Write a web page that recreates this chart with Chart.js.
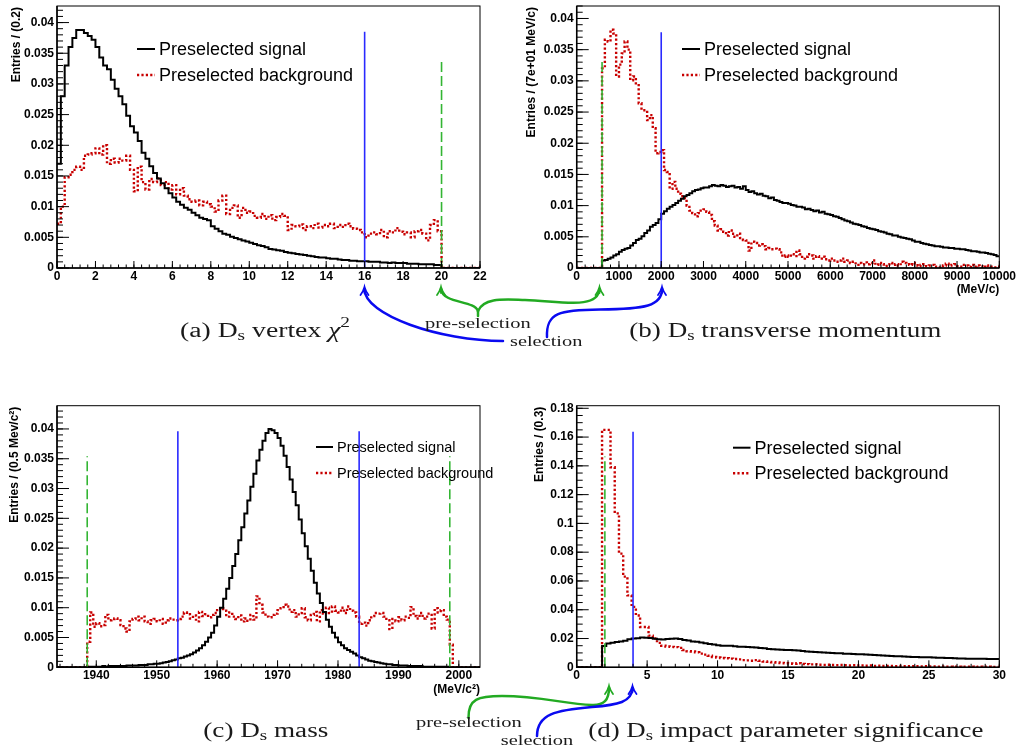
<!DOCTYPE html>
<html>
<head>
<meta charset="utf-8">
<title>Ds selection variables</title>
<script src="https://cdn.jsdelivr.net/npm/chart.js@4.4.1/dist/chart.umd.min.js"></script>
<style>
  body { margin: 0; background: #fff; }
  #page { position: relative; width: 1020px; height: 755px; overflow: hidden; }
  canvas { position: absolute; }
</style>
</head>
<body>
<div id="page">
  <canvas id="chartA" width="510" height="300" style="left:0;top:0"></canvas>
  <canvas id="chartB" width="510" height="300" style="left:510px;top:0"></canvas>
  <canvas id="chartC" width="510" height="305" style="left:0;top:395px"></canvas>
  <canvas id="chartD" width="510" height="305" style="left:510px;top:395px"></canvas>
  <canvas id="notes" width="1020" height="755" style="left:0;top:0"></canvas>
</div>
<script>
// ---- (a) Ds vertex chi2, bins of 0.2 from 0 ----
const binStartA = 0, binWidthA = 0.2;
const signalA = [
  0.0170, 0.0280, 0.0330, 0.0360, 0.0375, 0.0388, 0.0388, 0.0383, 0.0378, 0.0372,
  0.0360, 0.0343, 0.0330, 0.0324, 0.0307, 0.0292, 0.0280, 0.0267, 0.0248, 0.0231,
  0.0221, 0.0207, 0.0188, 0.0178, 0.0166, 0.0155, 0.0146, 0.0138, 0.0130, 0.0122,
  0.0115, 0.0108, 0.0103, 0.0098, 0.0095, 0.0090, 0.0086, 0.0082, 0.0080, 0.0078,
  0.0068, 0.0064, 0.0060, 0.0056, 0.0054, 0.0051, 0.0049, 0.0047, 0.0045, 0.0043,
  0.0041, 0.0039, 0.0037, 0.0036, 0.0034, 0.0031, 0.0030, 0.0029, 0.0028, 0.0026,
  0.0025, 0.0024, 0.0023, 0.0022, 0.0021, 0.0020, 0.0019, 0.0018, 0.0017, 0.0017,
  0.0016, 0.0015, 0.0015, 0.0014, 0.0013, 0.0013, 0.0012, 0.0012, 0.0011, 0.0011,
  0.0011, 0.0010, 0.0010, 0.0010, 0.0009, 0.0009, 0.0008, 0.0009, 0.0008, 0.0008,
  0.0008, 0.0007, 0.0007, 0.0007, 0.0006, 0.0006, 0.0006, 0.0006, 0.0005, 0.0005,
  0, 0, 0, 0, 0, 0, 0, 0, 0, 0
];
const backgroundA = [
  0.0072, 0.0100, 0.0148, 0.0152, 0.0160, 0.0165, 0.0160, 0.0183, 0.0185, 0.0187,
  0.0195, 0.0185, 0.0200, 0.0170, 0.0178, 0.0172, 0.0178, 0.0175, 0.0183, 0.0160,
  0.0125, 0.0165, 0.0140, 0.0128, 0.0145, 0.0140, 0.0146, 0.0135, 0.0140, 0.0128,
  0.0135, 0.0120, 0.0130, 0.0118, 0.0112, 0.0108, 0.0110, 0.0102, 0.0108, 0.0104,
  0.0100, 0.0092, 0.0110, 0.0118, 0.0088, 0.0098, 0.0102, 0.0082, 0.0098, 0.0090,
  0.0092, 0.0085, 0.0082, 0.0088, 0.0080, 0.0086, 0.0078, 0.0083, 0.0088, 0.0085,
  0.0062, 0.0070, 0.0068, 0.0071, 0.0062, 0.0068, 0.0065, 0.0072, 0.0066, 0.0070,
  0.0068, 0.0072, 0.0065, 0.0070, 0.0067, 0.0072, 0.0068, 0.0064, 0.0062, 0.0058,
  0.0050, 0.0056, 0.0058, 0.0055, 0.0062, 0.0050, 0.0060, 0.0058, 0.0065, 0.0059,
  0.0055, 0.0058, 0.0050, 0.0060, 0.0062, 0.0056, 0.0045, 0.0070, 0.0078, 0.0060,
  0, 0, 0, 0, 0, 0, 0, 0, 0, 0
];
const selCutsA = [16], preCutsA = [20];
const selTopA = 0.0385, preTopA = 0.0341;
const xTicksA = [0, 2, 4, 6, 8, 10, 12, 14, 16, 18, 20, 22];
const yTicksA = [0, 0.005, 0.01, 0.015, 0.02, 0.025, 0.03, 0.035, 0.04];

// ---- (b) Ds transverse momentum, 150 bins up to 10000 MeV/c ----
const binStartB = 0, binWidthB = 10000 / 150;
const signalB = [
  0, 0, 0, 0, 0, 0, 0, 0, 0, 0.0012,
  0.0013, 0.0015, 0.0017, 0.0020, 0.0022, 0.0026, 0.0029, 0.0031, 0.0032, 0.0036,
  0.0040, 0.0045, 0.0047, 0.0051, 0.0056, 0.0060, 0.0066, 0.0069, 0.0072, 0.0078,
  0.0087, 0.0091, 0.0095, 0.0098, 0.0101, 0.0104, 0.0108, 0.0111, 0.0115, 0.0117,
  0.0120, 0.0123, 0.0125, 0.0126, 0.0128, 0.0129, 0.0129, 0.0131, 0.0133, 0.0132,
  0.0131, 0.0133, 0.0132, 0.0130, 0.0131, 0.0132, 0.0129, 0.0130, 0.0127, 0.0131,
  0.0125, 0.0122, 0.0123, 0.0120, 0.0118, 0.0119, 0.0116, 0.0115, 0.0112, 0.0113,
  0.0109, 0.0108, 0.0106, 0.0104, 0.0104, 0.0103, 0.0101, 0.0100, 0.0098, 0.0098,
  0.0097, 0.0094, 0.0095, 0.0093, 0.0091, 0.0092, 0.0089, 0.0090, 0.0087, 0.0086,
  0.0085, 0.0083, 0.0082, 0.0080, 0.0078, 0.0076, 0.0075, 0.0073, 0.0071, 0.0070,
  0.0069, 0.0067, 0.0066, 0.0064, 0.0063, 0.0062, 0.0061, 0.0059, 0.0058, 0.0057,
  0.0055, 0.0054, 0.0052, 0.0052, 0.0050, 0.0049, 0.0048, 0.0047, 0.0046, 0.0044,
  0.0042, 0.0042, 0.0040, 0.0039, 0.0038, 0.0037, 0.0036, 0.0035, 0.0035, 0.0034,
  0.0033, 0.0033, 0.0032, 0.0032, 0.0031, 0.0031, 0.0030, 0.0030, 0.0029, 0.0028,
  0.0027, 0.0027, 0.0026, 0.0025, 0.0025, 0.0024, 0.0023, 0.0022, 0.0021, 0.0019
];
const backgroundB = [
  0, 0, 0, 0, 0, 0, 0, 0, 0, 0.0320,
  0.0366, 0.0363, 0.0382, 0.0376, 0.0307, 0.0326, 0.0344, 0.0363, 0.0350, 0.0301,
  0.0307, 0.0296, 0.0264, 0.0253, 0.0253, 0.0237, 0.0245, 0.0224, 0.0184, 0.0186,
  0.0189, 0.0157, 0.0154, 0.0127, 0.0138, 0.0127, 0.0119, 0.0115, 0.0112, 0.0100,
  0.0092, 0.0088, 0.0083, 0.0088, 0.0092, 0.0094, 0.0090, 0.0085, 0.0075, 0.0068,
  0.0060, 0.0062, 0.0058, 0.0052, 0.0060, 0.0055, 0.0050, 0.0055, 0.0048, 0.0045,
  0.0044, 0.0028, 0.0042, 0.0040, 0.0036, 0.0038, 0.0035, 0.0030, 0.0032, 0.0030,
  0.0031, 0.0030, 0.0025, 0.0018, 0.0020, 0.0018, 0.0022, 0.0019, 0.0028, 0.0022,
  0.0015, 0.0018, 0.0022, 0.0020, 0.0015, 0.0019, 0.0015, 0.0018, 0.0014, 0.0012,
  0.0015, 0.0012, 0.0010, 0.0012, 0.0015, 0.0010, 0.0012, 0.0008, 0.0010, 0.0005,
  0.0008, 0.0006, 0.0009, 0.0006, 0.0008, 0.0012, 0.0005, 0.0008, 0.0006, 0.0003,
  0.0006, 0.0008, 0.0005, 0.0006, 0.0004, 0.0010, 0.0008, 0.0006, 0.0005, 0.0008,
  0.0007, 0.0003, 0.0005, 0.0006, 0.0003, 0.0004, 0.0005, 0.0002, 0.0001, 0.0003,
  0.0004, 0.0007, 0.0004, 0.0005, 0.0006, 0.0003, 0.0002, 0.0005, 0.0004, 0.0002,
  0.0005, 0.0002, 0.0004, 0.0003, 0.0001, 0.0004, 0.0003, 0.0002, 0.0001, 0.0002
];
const selCutsB = [2000], preCutsB = [600];
const selTopB = 0.0378, preTopB = 0.0336;
const xTicksB = [0, 1000, 2000, 3000, 4000, 5000, 6000, 7000, 8000, 9000, 10000];
const yTicksB = [0, 0.005, 0.01, 0.015, 0.02, 0.025, 0.03, 0.035, 0.04];

// ---- (c) Ds mass, bins of 0.5 MeV/c2 from 1933.5 ----
const binStartC = 1933.5, binWidthC = 0.5;
const signalC = [
  0, 0, 0, 0, 0, 0, 0, 0, 0, 0,
  0.0001, 0.0001, 0.0001, 0.0001, 0.0001, 0.0002, 0.0001, 0.0002, 0.0002, 0.0002,
  0.0002, 0.0002, 0.0002, 0.0003, 0.0003, 0.0003, 0.0003, 0.0004, 0.0004, 0.0004,
  0.0005, 0.0005, 0.0006, 0.0006, 0.0007, 0.0008, 0.0009, 0.0010, 0.0012, 0.0013,
  0.0015, 0.0016, 0.0018, 0.0020, 0.0022, 0.0025, 0.0028, 0.0032, 0.0037, 0.0043,
  0.0050, 0.0058, 0.0070, 0.0085, 0.0100, 0.0115, 0.0132, 0.0150, 0.0170, 0.0190,
  0.0213, 0.0235, 0.0258, 0.0280, 0.0303, 0.0325, 0.0347, 0.0365, 0.0380, 0.0393,
  0.0400, 0.0398, 0.0393, 0.0385, 0.0372, 0.0355, 0.0336, 0.0315, 0.0294, 0.0272,
  0.0248, 0.0225, 0.0203, 0.0182, 0.0162, 0.0142, 0.0124, 0.0108, 0.0093, 0.0080,
  0.0068, 0.0058, 0.0050, 0.0042, 0.0037, 0.0032, 0.0029, 0.0026, 0.0023, 0.0020,
  0.0017, 0.0015, 0.0013, 0.0011, 0.0010, 0.0009, 0.0008, 0.0007, 0.0006, 0.0005,
  0.0005, 0.0004, 0.0004, 0.0003, 0.0003, 0.0003, 0.0002, 0.0002, 0.0002, 0.0002,
  0.0002, 0.0001, 0.0001, 0.0001, 0.0001, 0.0001, 0.0001, 0.0001, 0.0001, 0.0001,
  0, 0, 0, 0, 0, 0, 0, 0, 0, 0
];
const backgroundC = [
  0, 0, 0, 0, 0, 0, 0, 0, 0, 0,
  0.0043, 0.0092, 0.0068, 0.0074, 0.0069, 0.0071, 0.0088, 0.0079, 0.0081, 0.0082,
  0.0079, 0.0071, 0.0065, 0.0060, 0.0077, 0.0081, 0.0085, 0.0079, 0.0085, 0.0077,
  0.0073, 0.0079, 0.0081, 0.0077, 0.0081, 0.0073, 0.0079, 0.0082, 0.0080, 0.0079,
  0.0081, 0.0085, 0.0092, 0.0089, 0.0082, 0.0087, 0.0077, 0.0093, 0.0086, 0.0089,
  0.0084, 0.0088, 0.0091, 0.0096, 0.0099, 0.0095, 0.0085, 0.0092, 0.0085, 0.0081,
  0.0087, 0.0077, 0.0082, 0.0078, 0.0088, 0.0080, 0.0119, 0.0105, 0.0092, 0.0085,
  0.0084, 0.0088, 0.0090, 0.0096, 0.0099, 0.0105, 0.0102, 0.0093, 0.0096, 0.0085,
  0.0091, 0.0099, 0.0084, 0.0079, 0.0088, 0.0093, 0.0077, 0.0096, 0.0090, 0.0100,
  0.0091, 0.0102, 0.0095, 0.0092, 0.0100, 0.0091, 0.0102, 0.0095, 0.0092, 0.0085,
  0.0073, 0.0075, 0.0070, 0.0079, 0.0086, 0.0091, 0.0090, 0.0091, 0.0085, 0.0079,
  0.0064, 0.0081, 0.0077, 0.0084, 0.0079, 0.0085, 0.0083, 0.0101, 0.0086, 0.0082,
  0.0091, 0.0082, 0.0085, 0.0090, 0.0065, 0.0099, 0.0092, 0.0096, 0.0085, 0.0080,
  0.0038, 0, 0, 0, 0, 0, 0, 0, 0, 0
];
const selCutsC = [1953.5, 1983.5], preCutsC = [1938.5, 1998.5];
const selTopC = 0.0396, preTopC = 0.0354;
const xTicksC = [1940, 1950, 1960, 1970, 1980, 1990, 2000];
const yTicksC = [0, 0.005, 0.01, 0.015, 0.02, 0.025, 0.03, 0.035, 0.04];

// ---- (d) Ds impact parameter significance, bins of 0.3 from 0 ----
const binStartD = 0, binWidthD = 0.3;
const signalD = [
  0, 0, 0, 0, 0, 0, 0.0148, 0.0165, 0.0170, 0.0175,
  0.0180, 0.0185, 0.0195, 0.0200, 0.0202, 0.0207, 0.0205, 0.0203, 0.0198, 0.0195,
  0.0194, 0.0196, 0.0199, 0.0200, 0.0197, 0.0190, 0.0186, 0.0180, 0.0177, 0.0173,
  0.0168, 0.0162, 0.0158, 0.0153, 0.0150, 0.0150, 0.0149, 0.0146, 0.0143, 0.0142,
  0.0141, 0.0140, 0.0138, 0.0134, 0.0132, 0.0128, 0.0125, 0.0124, 0.0122, 0.0121,
  0.0120, 0.0118, 0.0116, 0.0113, 0.0110, 0.0108, 0.0106, 0.0104, 0.0103, 0.0101,
  0.0100, 0.0098, 0.0097, 0.0095, 0.0094, 0.0092, 0.0091, 0.0090, 0.0089, 0.0087,
  0.0085, 0.0083, 0.0082, 0.0080, 0.0078, 0.0077, 0.0076, 0.0075, 0.0073, 0.0072,
  0.0071, 0.0070, 0.0069, 0.0069, 0.0068, 0.0067, 0.0066, 0.0065, 0.0064, 0.0063,
  0.0062, 0.0061, 0.0060, 0.0060, 0.0060, 0.0059, 0.0059, 0.0058, 0.0058, 0.0057
];
const backgroundD = [
  0, 0, 0, 0, 0, 0, 0.165, 0.165, 0.139, 0.107,
  0.079, 0.063, 0.050, 0.042, 0.036, 0.028, 0.028, 0.022, 0.020, 0.017,
  0.0150, 0.0145, 0.0142, 0.0140, 0.0135, 0.0120, 0.0112, 0.0110, 0.0105, 0.0095,
  0.0088, 0.0080, 0.0072, 0.0068, 0.0065, 0.0063, 0.0060, 0.0058, 0.0055, 0.0050,
  0.0048, 0.0046, 0.0050, 0.0045, 0.0040, 0.0038, 0.0035, 0.0033, 0.0030, 0.0028,
  0.0027, 0.0025, 0.0028, 0.0023, 0.0022, 0.0020, 0.0021, 0.0018, 0.0017, 0.0018,
  0.0016, 0.0015, 0.0016, 0.0014, 0.0013, 0.0014, 0.0012, 0.0013, 0.0011, 0.0012,
  0.0010, 0.0011, 0.0009, 0.0010, 0.0009, 0.0008, 0.0009, 0.0008, 0.0007, 0.0008,
  0.0007, 0.0006, 0.0007, 0.0006, 0.0006, 0.0005, 0.0006, 0.0005, 0.0005, 0.0004,
  0.0005, 0.0004, 0.0004, 0.0005, 0.0003, 0.0004, 0.0003, 0.0004, 0.0003, 0.0003
];
const selCutsD = [4], preCutsD = [2];
const selTopD = 0.1637, preTopD = 0.1465;
const xTicksD = [0, 5, 10, 15, 20, 25, 30];
const yTicksD = [0, 0.02, 0.04, 0.06, 0.08, 0.1, 0.12, 0.14, 0.16, 0.18];

const SANS = '"Liberation Sans", Arial, Helvetica, sans-serif';
const SERIF = '"Liberation Serif", "Times New Roman", serif';
const TICK_FONT = 'bold 12px ' + SANS;

// histogram as step points: one point per bin edge, last one closes the bin
function hist(start, width, values) {
  const pts = values.map((v, i) => ({ x: start + i * width, y: v }));
  pts.push({ x: start + values.length * width, y: values[values.length - 1] });
  return pts;
}

function cutDatasets(xs, top, color, dash) {
  return xs.map(xv => ({
    data: [{ x: xv, y: 0 }, { x: xv, y: top }],
    borderColor: color, borderWidth: 1.6, borderDash: dash, order: 0, isCut: true
  }));
}

function eachStep(min, max, step, fn) {
  const first = Math.ceil(min / step - 1e-9);
  const last = Math.floor(max / step + 1e-9);
  for (let k = first; k <= last; k++) fn(k * step);
}

function drawRootAxes(chart, cfg) {
  const { ctx, chartArea: a, scales: { x, y } } = chart;
  ctx.save();
  ctx.strokeStyle = '#000';
  ctx.fillStyle = '#000';
  ctx.lineWidth = 1;
  ctx.strokeRect(a.left, a.top, a.right - a.left, a.bottom - a.top);

  // inward ticks, ROOT style
  ctx.beginPath();
  eachStep(y.min, y.max, cfg.yMinor, v => {
    const p = y.getPixelForValue(v);
    ctx.moveTo(a.left, p); ctx.lineTo(a.left + 6, p);
  });
  cfg.yTicks.forEach(v => {
    const p = y.getPixelForValue(v);
    ctx.moveTo(a.left, p); ctx.lineTo(a.left + 12, p);
  });
  eachStep(x.min, x.max, cfg.xMinor, v => {
    const p = x.getPixelForValue(v);
    ctx.moveTo(p, a.bottom); ctx.lineTo(p, a.bottom - 3.5);
  });
  cfg.xTicks.forEach(v => {
    const p = x.getPixelForValue(v);
    ctx.moveTo(p, a.bottom); ctx.lineTo(p, a.bottom - 7);
  });
  ctx.stroke();

  ctx.lineWidth = 1.5;
  ctx.beginPath();
  ctx.moveTo(a.left, a.top); ctx.lineTo(a.left, a.bottom); ctx.lineTo(a.right, a.bottom);
  ctx.stroke();

  ctx.font = TICK_FONT;
  ctx.textBaseline = 'middle';
  ctx.textAlign = 'right';
  cfg.yTicks.forEach(v => ctx.fillText(String(v), a.left - 3, y.getPixelForValue(v)));
  ctx.textAlign = 'center';
  cfg.xTicks.forEach(v => ctx.fillText(String(v), x.getPixelForValue(v), a.bottom + 8.5));
  if (cfg.xUnit) {
    ctx.textAlign = 'right';
    ctx.fillText(cfg.xUnit, a.right, a.bottom + 22);
  }

  ctx.save();
  ctx.translate(a.left - cfg.titleGap, a.top + 1);
  ctx.rotate(-Math.PI / 2);
  ctx.textAlign = 'right';
  ctx.fillText(cfg.yTitle, 0, 0);
  ctx.restore();

  // legend
  const lg = cfg.legend;
  chart.data.datasets.filter(d => !d.isCut).forEach((d, i) => {
    const yy = lg.y + i * lg.gap;
    ctx.strokeStyle = d.borderColor;
    ctx.lineWidth = d.borderWidth;
    ctx.setLineDash(d.borderDash || []);
    ctx.beginPath(); ctx.moveTo(lg.x, yy); ctx.lineTo(lg.x + lg.len, yy); ctx.stroke();
    ctx.setLineDash([]);
    ctx.font = lg.size + 'px ' + SANS;
    ctx.textAlign = 'left';
    ctx.fillStyle = '#000';
    ctx.fillText(d.label, lg.x + lg.len + 4, yy + 1);
  });
  ctx.restore();
}

function makePanel(id, p) {
  const datasets = [
    { label: 'Preselected signal', data: hist(p.start, p.width, p.signal),
      borderColor: '#000', borderWidth: 2, order: 1 },
    { label: 'Preselected background', data: hist(p.start, p.width, p.background),
      borderColor: '#c80000', borderWidth: 2.4, borderDash: [2.2, 2.2], order: 2 },
    ...cutDatasets(p.selCuts, p.selTop, '#2a2aff', []),
    ...cutDatasets(p.preCuts, p.preTop, '#33b533', [10, 4])
  ];
  return new Chart(document.getElementById(id), {
    type: 'line',
    data: { datasets },
    options: {
      responsive: false,
      animation: false,
      devicePixelRatio: 1,
      events: [],
      layout: { padding: p.padding },
      datasets: { line: { stepped: true, pointRadius: 0, fill: false, tension: 0 } },
      plugins: { legend: { display: false }, tooltip: { enabled: false } },
      scales: {
        x: { type: 'linear', min: p.xMin, max: p.xMax, display: false },
        y: { type: 'linear', min: 0, max: p.yMax, display: false }
      }
    },
    plugins: [{ id: 'rootAxes', afterDraw: chart => drawRootAxes(chart, p.axes) }]
  });
}

makePanel('chartA', {
  start: binStartA, width: binWidthA, signal: signalA, background: backgroundA,
  selCuts: selCutsA, selTop: selTopA, preCuts: preCutsA, preTop: preTopA,
  xMin: 0, xMax: 22, yMax: 0.0427,
  padding: { left: 57, top: 6, right: 30, bottom: 32 },
  axes: { xTicks: xTicksA, yTicks: yTicksA, xMinor: 0.4, yMinor: 0.001,
          yTitle: 'Entries / (0.2)', titleGap: 40,
          legend: { x: 137, y: 49, gap: 26, len: 18, size: 18 } }
});
makePanel('chartB', {
  start: binStartB, width: binWidthB, signal: signalB, background: backgroundB,
  selCuts: selCutsB, selTop: selTopB, preCuts: preCutsB, preTop: preTopB,
  xMin: 0, xMax: 10000, yMax: 0.042,
  padding: { left: 66.7, top: 6, right: 20.7, bottom: 32 },
  axes: { xTicks: xTicksB, yTicks: yTicksB, xMinor: 200, yMinor: 0.001,
          yTitle: 'Entries / (7e+01 MeV/c)', titleGap: 45, xUnit: '(MeV/c)',
          legend: { x: 172, y: 49, gap: 26, len: 18, size: 18 } }
});
makePanel('chartC', {
  start: binStartC, width: binWidthC, signal: signalC, background: backgroundC,
  selCuts: selCutsC, selTop: selTopC, preCuts: preCutsC, preTop: preTopC,
  xMin: 1933.5, xMax: 2003.5, yMax: 0.0439,
  padding: { left: 57, top: 10.7, right: 30, bottom: 32.7 },
  axes: { xTicks: xTicksC, yTicks: yTicksC, xMinor: 2, yMinor: 0.001,
          yTitle: 'Entries / (0.5 Mev/c\u00b2)', titleGap: 42, xUnit: '(MeV/c\u00b2)',
          legend: { x: 316, y: 52, gap: 26, len: 17, size: 14.5 } }
});
makePanel('chartD', {
  start: binStartD, width: binWidthD, signal: signalD, background: backgroundD,
  selCuts: selCutsD, selTop: selTopD, preCuts: preCutsD, preTop: preTopD,
  xMin: 0, xMax: 30, yMax: 0.1818,
  padding: { left: 66.7, top: 10.7, right: 20.7, bottom: 32.7 },
  axes: { xTicks: xTicksD, yTicks: yTicksD, xMinor: 1, yMinor: 0.005,
          yTitle: 'Entries / (0.3)', titleGap: 37.5,
          legend: { x: 223, y: 52.7, gap: 25.5, len: 17.5, size: 18 } }
});

// ---- captions and cut annotations ----
const nctx = document.getElementById('notes').getContext('2d');

function caption(parts, x, base, w) {
  nctx.save();
  let total = 0;
  parts.forEach(p => { nctx.font = (p.it ? 'italic ' : '') + p.s + 'px ' + SERIF; p.w = nctx.measureText(p.t).width; total += p.w; });
  nctx.translate(x, base);
  nctx.scale(w / total, 1);
  nctx.fillStyle = '#1a1a1a';
  nctx.textBaseline = 'alphabetic';
  let cx = 0;
  parts.forEach(p => {
    nctx.font = (p.it ? 'italic ' : '') + p.s + 'px ' + SERIF;
    nctx.fillText(p.t, cx, p.dy || 0);
    cx += p.w;
  });
  nctx.restore();
}

function curve(color, pts) {
  nctx.save();
  nctx.strokeStyle = color;
  nctx.lineWidth = 2.5;
  nctx.lineCap = 'round';
  nctx.beginPath();
  nctx.moveTo(pts[0][0], pts[0][1]);
  for (let i = 1; i < pts.length; i += 3) {
    nctx.bezierCurveTo(pts[i][0], pts[i][1], pts[i + 1][0], pts[i + 1][1], pts[i + 2][0], pts[i + 2][1]);
  }
  nctx.stroke();
  nctx.restore();
}

function head(color, x, y) {
  nctx.save();
  nctx.strokeStyle = color;
  nctx.lineWidth = 1.8;
  nctx.lineCap = 'round';
  nctx.beginPath();
  nctx.moveTo(x - 4, y + 8);
  nctx.quadraticCurveTo(x - 1, y + 4, x, y);
  nctx.quadraticCurveTo(x + 1, y + 4, x + 4, y + 8);
  nctx.moveTo(x, y); nctx.lineTo(x, y + 6);
  nctx.stroke();
  nctx.restore();
}

const GREEN = '#22aa22', BLUE = '#0a0af0';

// top row
curve(BLUE, [[503, 341], [440, 341], [364, 315], [364.5, 289]]);
head(BLUE, 364.5, 287);
curve(BLUE, [[547, 337], [546, 312], [560, 310], [600, 309.5], [645, 309], [662, 306], [662, 289]]);
head(BLUE, 662, 287);
curve(GREEN, [[478, 316], [478, 314], [478, 312], [478, 311]]);
curve(GREEN, [[478, 311], [474, 300], [443, 304], [441, 289]]);
head(GREEN, 441, 287);
curve(GREEN, [[478, 311], [484, 297], [505, 299.5], [525, 300], [560, 301], [598, 310], [599.5, 289]]);
head(GREEN, 599.5, 287);

// bottom row
curve(GREEN, [[468.5, 718], [468, 699], [478, 696], [502, 696], [540, 696], [565, 704], [592, 705], [604, 705.5], [609, 700], [609, 688]]);
head(GREEN, 609, 686);
curve(BLUE, [[537, 736], [537, 714], [556, 710], [592, 707], [618, 705], [632, 702], [632.5, 688]]);
head(BLUE, 632.5, 686);

caption([{ t: '(a) D', s: 20 }, { t: 's', s: 14, dy: 3.5 }, { t: ' vertex ', s: 20 }, { t: '\u03c7', s: 20, it: true }, { t: '2', s: 14, dy: -10 }], 180, 336.5, 170);
caption([{ t: '(b) D', s: 20 }, { t: 's', s: 14, dy: 3.5 }, { t: ' transverse momentum', s: 20 }], 629.3, 336.5, 312);
caption([{ t: '(c) D', s: 20 }, { t: 's', s: 14, dy: 3.5 }, { t: ' mass', s: 20 }], 203.3, 736.7, 125);
caption([{ t: '(d) D', s: 20 }, { t: 's', s: 14, dy: 3.5 }, { t: ' impact parameter significance', s: 20 }], 588.3, 736.7, 395);

caption([{ t: 'pre-selection', s: 15.5 }], 425, 328, 105.7);
caption([{ t: 'selection', s: 15.5 }], 510, 346.3, 72.3);
caption([{ t: 'pre-selection', s: 15.5 }], 416, 726.7, 105.7);
caption([{ t: 'selection', s: 15.5 }], 500.7, 745, 72.6);
</script>
</body>
</html>
